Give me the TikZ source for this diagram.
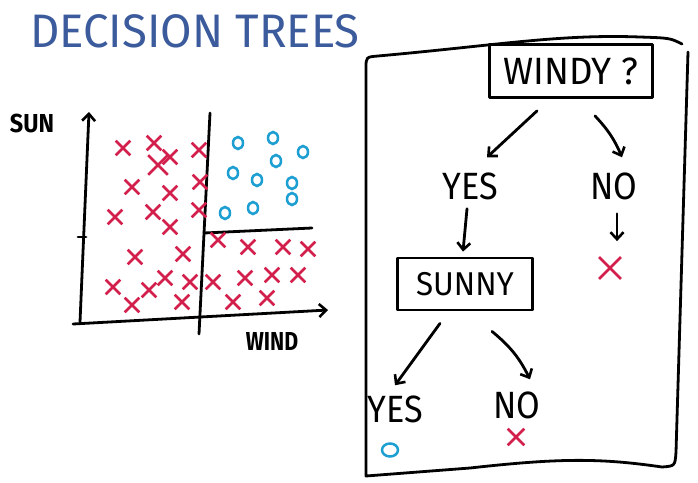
\documentclass[tikz,border=0pt]{standalone}
\usepackage{fontspec}
\setmainfont{Fira Sans}
\usetikzlibrary{arrows.meta,shapes.misc,shapes.geometric}
\definecolor{crossred}{HTML}{D21F4B}
\definecolor{dotblue}{HTML}{1E9FD2}
\definecolor{titleblue}{HTML}{3B5B9C}
\newcommand{\hand}[2]{\scalebox{#1}[1]{#2}}
\begin{document}
\begin{tikzpicture}[x=1pt,y=-1pt]
\tikzstyle{ink} = [line width=2.8pt, line cap=round, line join=round]
\tikzstyle{edge} = [ink, -{Straight Barb[length=7pt,width=13pt,line width=2.6pt]}]
\tikzstyle{redx} = [cross out, draw=crossred, line width=2.6pt, minimum size=12pt, inner sep=0pt]
\tikzstyle{bluo} = [ellipse, draw=dotblue, line width=2.5pt, minimum width=10pt, minimum height=12pt, inner sep=0pt]
\tikzstyle{question} = [rectangle, draw, ink, inner sep=0pt, font=\fontsize{38}{38}\selectfont]
\tikzstyle{answer} = [inner sep=0pt, font=\fontsize{38}{38}\selectfont]
\tikzstyle{axislabel} = [inner sep=0pt, font=\bfseries\fontsize{26}{26}\selectfont]
\useasboundingbox (0,0) rectangle (698,482);

%title
\node[inner sep=0pt, text=titleblue, font=\fontsize{47}{47}\selectfont] (title) at (195,31) {\hand{0.97}{DECISION TREES}};

%axes
\coordinate (yfoot) at (80,322);
\coordinate (ytip) at (89,112);
\coordinate (xfoot) at (73,324);
\coordinate (xtip) at (328,310);
\draw[edge] (yfoot) -- (ytip);
\draw[edge] (xfoot) -- (xtip);
\draw[ink] (78,237) -- (86,237);
\node[axislabel] (sun) at (32,123) {\hand{0.9}{SUN}};
\node[axislabel] (wind) at (272,341) {\hand{0.82}{WIND}};

%splits
\coordinate (vtop) at (210,113);
\coordinate (vbot) at (199,334);
\coordinate (hleft) at (204,233);
\coordinate (hright) at (312,228);
\draw[ink] (vtop) -- (vbot);
\draw[ink] (hleft) -- (hright);

%red points
\foreach \x/\y [count=\i] in {123/148, 154/143, 170/157, 199/150, 132/187, 170/193, 200/182,
	115/217, 153/212, 170/227, 199/210, 135/257, 183/254, 113/287, 132/305, 149/290,
	165/278, 190/282, 182/302, 218/240, 248/247, 283/247, 308/249, 213/282, 245/278,
	272/275, 298/275, 233/302, 267/298}
  	\node[redx] (p\i) at (\x,\y) {};
\node[redx, minimum size=17pt] (pbig) at (158,165) {};

%blue points
\foreach \x/\y [count=\i] in {238/143, 273/138, 303/152, 276/161, 233/173, 257/180,
	292/183, 292/199, 253/208, 225/213}
  	\node[bluo] (q\i) at (\x,\y) {};

%frame
\draw[ink] (688,52) -- (676,452) .. controls (675,466) .. (662,467)
	.. controls (600,458) and (560,458) .. (470,468) -- (366,476) -- (366,68)
	.. controls (366,57) .. (378,56) .. controls (500,45) and (560,34) .. (640,37)
	.. controls (670,38) .. (682,44);

%first split
\node[question, minimum width=163pt, minimum height=53pt] (windy) at (571,71) {\hand{0.96}{WINDY ?}};
\foreach \name/\x/\txt in {yes1/470/YES, no1/614/NO}
  	\node[answer] (\name) at (\x,186) {\hand{0.9}{\txt}};
\draw[edge] ([shift={(-34,12)}]windy.south) -- ([shift={(17,-15)}]yes1.north);
\draw[edge] ([shift={(24,17)}]windy.south) to[bend left=10] ([shift={(8,-15)}]no1.north);
\node[redx, minimum size=19pt, line width=2.8pt] (leaf1) at (610,268) {};
\draw[edge] ([shift={(3,14)}]no1.south) -- ([shift={(7,-16)}]leaf1.north);

%second split
\node[question, minimum width=135pt, minimum height=52pt] (sunny) at (465,284) {\hand{0.95}{\fontsize{33}{33}\selectfont SUNNY}};
\draw[edge] ([shift={(-3,9)}]yes1.south) -- ([shift={(-2,-5)}]sunny.north);
\foreach \name/\x/\y/\txt in {yes2/395/409/YES, no2/517/405/NO}
  	\node[answer] (\name) at (\x,\y) {\hand{0.9}{\txt}};
\draw[edge] ([shift={(-25,12)}]sunny.south) -- ([shift={(0,-10)}]yes2.north);
\draw[edge] ([shift={(27,20)}]sunny.south) to[bend left=12] ([shift={(13,-12)}]no2.north);
\node[bluo, minimum width=16pt, minimum height=13pt] (leaf2) at (390,450) {};
\node[redx, minimum size=14pt] (leaf3) at (516,437) {};
\end{tikzpicture}
\end{document}
